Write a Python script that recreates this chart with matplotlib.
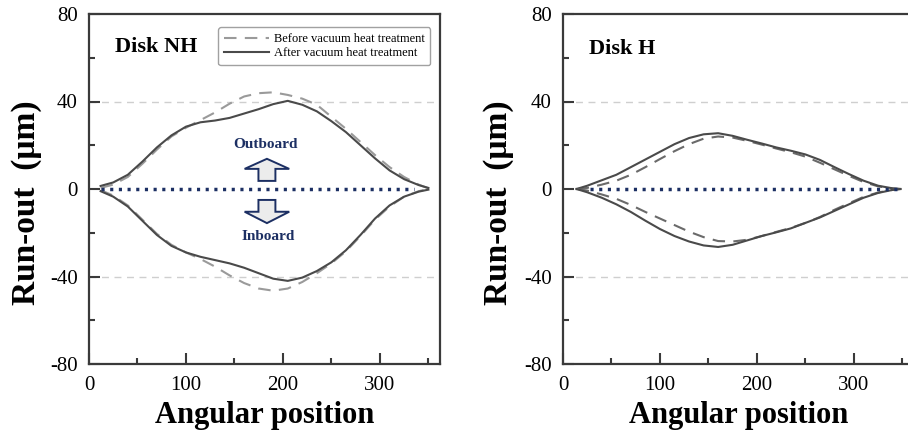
import matplotlib.pyplot as plt
from matplotlib.patches import FancyArrow
from matplotlib.ticker import MultipleLocator

plt.rcParams['font.family'] = ['Liberation Serif', 'DejaVu Serif']
plt.rcParams['axes.unicode_minus'] = False

# angular positions shared by the NH curves
angle_nh = [12, 25, 40, 55, 70, 85, 100, 115, 130, 145, 160, 175, 190, 205,
            220, 235, 250, 265, 280, 295, 310, 325, 340, 350]
nh_after_up = [1.4, 3, 6.5, 12.5, 19, 24.5, 28.5, 30.5, 31.3, 32.5, 34.5, 36.5, 38.8, 40.3,
               38.5, 35.5, 31, 26, 20, 14, 8.5, 4.5, 1.8, 0.5]
nh_before_up = [0.5, 2, 5.5, 11.5, 18, 24, 28, 31.5, 35, 39, 42.3, 43.8, 44.2, 43,
                41.3, 38.5, 33, 27.5, 21.5, 15.5, 10, 5.5, 2, 0.3]
nh_after_low = [-1, -3.5, -8, -14.5, -21, -26, -29, -31, -32.5, -34, -36, -38.5, -41, -42,
                -40.5, -37.5, -33.5, -28, -21, -13.5, -7.5, -3.5, -1.2, -0.3]
nh_before_low = [-0.5, -3, -7.5, -14, -20.5, -25.5, -29, -32, -35.5, -39.5, -43, -45.5, -46.5, -45.5,
                 -42.5, -38.5, -34, -28.5, -21.5, -14, -8, -3.5, -1, 0]

# angular positions shared by the H curves
angle_h = [14, 25, 40, 55, 70, 85, 100, 115, 130, 145, 160, 175, 190, 205,
           220, 235, 250, 265, 280, 295, 310, 325, 340, 348]
h_after_up = [0, 1.5, 4, 6.5, 10, 13.5, 17, 20.5, 23.3, 25, 25.5, 24.3, 22.5, 20.8,
              19, 17.5, 15.8, 13.3, 10, 6.8, 3.8, 1.5, 0.3, 0]
h_before_up = [0, 0.5, 2, 3.8, 6.5, 10, 13.7, 17.3, 20.5, 23, 24, 23.5, 22, 20.3,
               18.5, 16.8, 14.8, 12, 9, 6, 3.2, 1.2, 0.2, 0]
h_after_low = [0, -1.5, -4, -7, -10.5, -14.5, -18.3, -21.5, -24, -25.8, -26.5, -25.5, -23.5, -21.5,
               -19.8, -18, -15.5, -13, -10, -7, -4, -1.8, -0.4, 0]
h_before_low = [0, -0.7, -2.5, -4.5, -7.3, -10.5, -13.5, -16.5, -19.5, -22, -23.8, -24, -23.2, -21.5,
                -19.6, -17.8, -15.5, -12.8, -9.5, -6.5, -3.6, -1.6, -0.4, 0]

# zero reference line extents
zero_nh = [12, 335]
zero_h = [28, 350]

navy = '#1c2f63'
solid_col = '#4a4a4a'

fig = plt.figure(figsize=(9.08, 4.38), dpi=100)
ax1 = fig.add_axes([89 / 908, 1 - 364 / 438, 351 / 908, 350 / 438])
ax2 = fig.add_axes([563 / 908, 1 - 364 / 438, 351 / 908, 350 / 438])


def style_axes(ax):
    ax.set_xlim(0, 362)
    ax.set_ylim(-80, 80)
    ax.xaxis.set_major_locator(MultipleLocator(100))
    ax.xaxis.set_minor_locator(MultipleLocator(50))
    ax.yaxis.set_major_locator(MultipleLocator(40))
    ax.yaxis.set_minor_locator(MultipleLocator(20))
    ax.tick_params(which='both', direction='in', width=1.5, color='#3a3a3a',
                   labelsize=15)
    ax.tick_params(which='major', length=8)
    ax.tick_params(which='minor', length=4.5)
    ax.tick_params(axis='x', pad=9)
    ax.tick_params(axis='y', pad=8)
    for sp in ax.spines.values():
        sp.set_linewidth(1.6)
        sp.set_color('#3a3a3a')
    for yv in (40, -40):
        ax.axhline(yv, color='#cfcfcf', lw=1, ls=(0, (5, 4)), zorder=1)
    ax.set_xlabel('Angular position', fontsize=22, fontweight='bold')
    ax.set_ylabel('Run-out  (μm)', fontsize=24, fontweight='bold')
    ax.xaxis.set_label_coords(0.5, -0.105)


style_axes(ax1)
style_axes(ax2)
ax1.yaxis.set_label_coords(-0.135, 0.46)
ax2.yaxis.set_label_coords(-0.14, 0.46)

# Disk NH
ax1.plot(angle_nh, nh_before_up, color='#9a9a9a', lw=1.5, ls=(0, (6, 4)),
         label='Before vacuum heat treatment')
ax1.plot(angle_nh, nh_after_up, color=solid_col, lw=1.5,
         label='After vacuum heat treatment')
ax1.plot(angle_nh, nh_before_low, color='#9a9a9a', lw=1.5, ls=(0, (6, 4)))
ax1.plot(angle_nh, nh_after_low, color=solid_col, lw=1.5)
ax1.plot(zero_nh, [0, 0], color=navy, lw=2.5, ls=(0, (0.9, 1.6)))

ax1.text(0.074, 0.906, 'Disk NH', transform=ax1.transAxes, fontsize=16,
         fontweight='bold', va='center')
leg = ax1.legend(loc='upper right', bbox_to_anchor=(0.99, 0.98), fontsize=9,
                 handlelength=3.6, frameon=True, fancybox=True, borderpad=0.45,
                 labelspacing=0.2, handletextpad=0.4)
leg.get_frame().set_edgecolor('#8a8a8a')
leg.get_frame().set_linewidth(1)

# direction arrows
ax1.add_patch(FancyArrow(183.5, 3.7, 0, 10.1, width=17.5, head_width=46,
                         head_length=4.6, length_includes_head=True,
                         facecolor='#ececec', edgecolor=navy, lw=1.4, zorder=3))
ax1.add_patch(FancyArrow(183.5, -5, 0, -10.6, width=17.5, head_width=46,
                         head_length=5.2, length_includes_head=True,
                         facecolor='#ececec', edgecolor=navy, lw=1.4, zorder=3))
ax1.text(182, 20.2, 'Outboard', color=navy, fontsize=11, fontweight='bold',
         ha='center', va='center')
ax1.text(185, -21.6, 'Inboard', color=navy, fontsize=11, fontweight='bold',
         ha='center', va='center')

# Disk H
ax2.plot(angle_h, h_before_up, color='#6a6a6a', lw=1.5, ls=(0, (6, 4)))
ax2.plot(angle_h, h_after_up, color=solid_col, lw=1.5)
ax2.plot(angle_h, h_before_low, color='#6a6a6a', lw=1.5, ls=(0, (6, 4)))
ax2.plot(angle_h, h_after_low, color=solid_col, lw=1.5)
ax2.plot(zero_h, [0, 0], color=navy, lw=2.5, ls=(0, (0.9, 1.6)))
ax2.text(0.074, 0.9, 'Disk H', transform=ax2.transAxes, fontsize=16,
         fontweight='bold', va='center')

fig.savefig('out.png', dpi=100)
